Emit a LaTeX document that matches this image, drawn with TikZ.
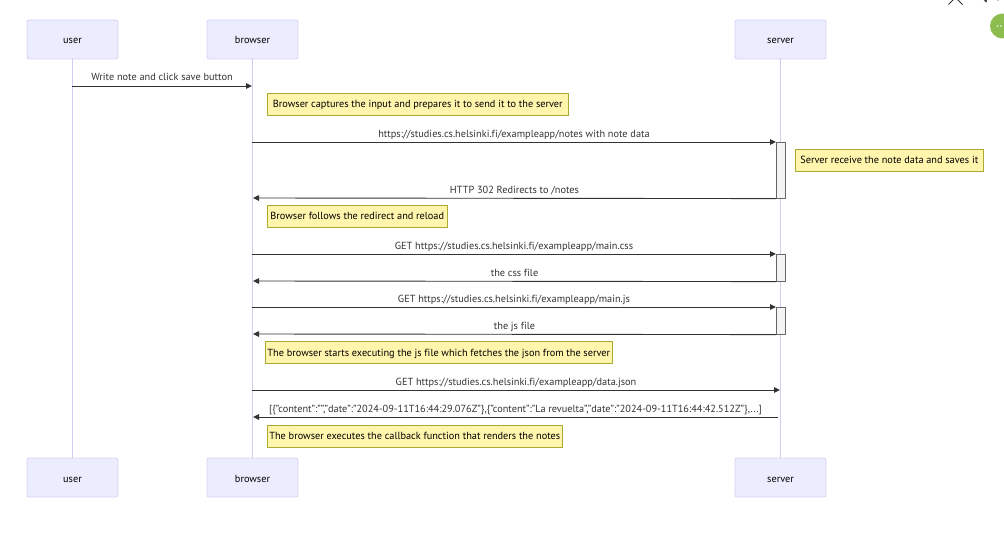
\documentclass[tikz,border=0pt]{standalone}
\usepackage{fontspec}
\setmainfont[Ligatures={TeX,NoCommon}]{PT Sans}
\usetikzlibrary{arrows.meta}
\definecolor{actfill}{HTML}{ECECFF}
\definecolor{actline}{HTML}{D9D2F4}
\definecolor{lifeline}{HTML}{D4CCF3}
\definecolor{msgline}{HTML}{333333}
\definecolor{notefill}{HTML}{FFF5AD}
\definecolor{noteline}{HTML}{AAAA33}
\definecolor{barfill}{HTML}{F4F4F4}
\definecolor{barline}{HTML}{666666}
\definecolor{uigreen}{HTML}{8DBD4F}
\definecolor{uiicon}{HTML}{333333}
\begin{document}
\begin{tikzpicture}[x=1pt,y=-1pt,font=\fontsize{10.3}{12}\selectfont,
  actor/.style={rectangle,rounded corners=2pt,fill=actfill,draw=actline,line width=0.8pt,
    minimum width=91pt,minimum height=39pt,inner sep=0pt,text=black,
    text height=9pt,text depth=0pt},
  lifeln/.style={draw=lifeline,line width=1pt},
  msg/.style={draw=msgline,line width=0.9pt,-{Triangle[length=6pt,width=5.5pt]}},
  msglabel/.style={anchor=base,text=msgline,inner sep=0pt,yshift=5pt},
  notebox/.style={rectangle,fill=notefill,draw=noteline,line width=0.6pt,
    minimum height=22pt,inner xsep=1pt,inner ysep=0pt,anchor=west,text=black,
    text height=7pt,text depth=0pt},
  actbar/.style={rectangle,fill=barfill,draw=barline,line width=0.6pt,
    minimum width=9pt,inner sep=0pt,anchor=north west}]
\useasboundingbox (0,0) rectangle (1004,551);

% participants
\node[actor] (ut) at (72.5,39.5) {user};
\node[actor] (bt) at (252.5,39.5) {browser};
\node[actor] (st) at (780.5,39.5) {server};
\node[actor] (ub) at (72.5,477.5) {user};
\node[actor] (bb) at (252.5,477.5) {browser};
\node[actor] (sb) at (780.5,477.5) {server};

% lifelines
\draw[lifeln] (ut.south) -- (ub.north);
\draw[lifeln] (bt.south) -- (bb.north);
\draw[lifeln] (st.south) -- (sb.north);

% activation bars on the server
\node[actbar,minimum height=56pt] (a1) at (776,142) {};
\node[actbar,minimum height=27pt] (a2) at (776,254) {};
\node[actbar,minimum height=27pt] (a3) at (776,307) {};

% points on the lifelines
\coordinate (u1) at (72,86);
\coordinate (b1) at (252,86);
\coordinate (b2) at (252,142);
\coordinate (b3) at (253,198);
\coordinate (b4) at (252,254);
\coordinate (b5) at (253,281);
\coordinate (b6) at (252,307);
\coordinate (b7) at (253,334);
\coordinate (b8) at (252,390);
\coordinate (s8) at (780,390);
\coordinate (s9) at (778,417);
\coordinate (b9) at (253,417);

% messages
\draw[msg] (u1) -- (b1) node[msglabel,midway] {Write note and click save button};
\node[notebox,minimum width=301pt] (n1) at (267,104) {Browser captures the input and prepares it to send it to the server};
\draw[msg] (b2) -- (a1.north west) node[msglabel,midway] {https://studies.cs.helsinki.fi/exampleapp/notes with note data};
\node[notebox,minimum width=188pt] (n2) at (795,160) {Server receive the note data and saves it};
\draw[msg] (a1.south west) -- (b3) node[msglabel,midway] {HTTP 302 Redirects to /notes};
\node[notebox,minimum width=180pt] (n3) at (267,216) {Browser follows the redirect and reload};
\draw[msg] (b4) -- (a2.north west) node[msglabel,midway] {GET https://studies.cs.helsinki.fi/exampleapp/main.css};
\draw[msg] (a2.south west) -- (b5) node[msglabel,midway] {the css file};
\draw[msg] (b6) -- (a3.north west) node[msglabel,midway] {GET https://studies.cs.helsinki.fi/exampleapp/main.js};
\draw[msg] (a3.south west) -- (b7) node[msglabel,midway] {the js file};
\node[notebox,minimum width=347pt] (n4) at (265,352.5) {The browser starts executing the js file which fetches the json from the server};
\draw[msg] (b8) -- (s8) node[msglabel,midway] {GET https://studies.cs.helsinki.fi/exampleapp/data.json};
\draw[msg] (s9) -- (b9) node[msglabel,midway] {[\{"content":"","date":"2024-09-11T16:44:29.076Z"\},\{"content":"La revuelta","date":"2024-09-11T16:44:42.512Z"\},...]};
\node[notebox,minimum width=295pt] (n5) at (267,436) {The browser executes the callback function that renders the notes};

% viewer controls at the top right edge
\draw[uiicon,line width=1pt] (948.5,4.5) -- (955.5,-2.5) -- (962.5,4.5);
\draw[uiicon,line width=1pt,-{Stealth[length=3pt,width=3.5pt]}] (998,0.5) arc[start angle=0,end angle=-200,x radius=6pt,y radius=-6pt];
\fill[uigreen] (1002.5,26) circle[radius=12.5pt];
\fill[white!85!uigreen] (997.5,26) circle[radius=0.9pt] (1001,26) circle[radius=0.9pt];
\end{tikzpicture}
\end{document}
